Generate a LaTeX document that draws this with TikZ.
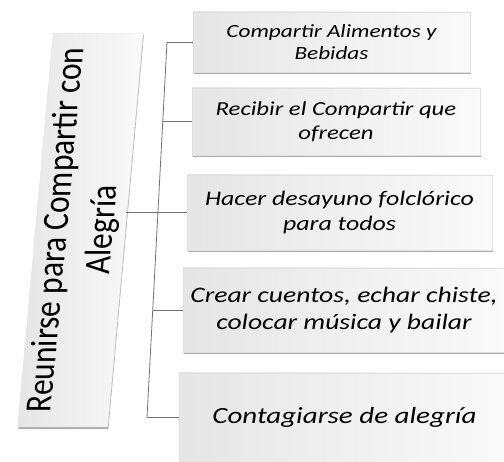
\documentclass[tikz,border=0pt]{standalone}
\usepackage{fontspec}
\setmainfont{Carlito}
\newfontfamily\boxfont[FakeStretch=1.25]{Carlito}
\newfontfamily\rootfont[FakeStretch=0.85]{Carlito}
\usetikzlibrary{shadows}

\begin{document}
\begin{tikzpicture}[x=1pt,y=-1pt,
  item/.style={draw=black!12,left color=black!10,right color=black!2,
    drop shadow={shadow xshift=0.6pt,shadow yshift=-2.2pt,fill=black!45,opacity=.7},
    align=center,inner sep=2pt},
  branch/.style={draw=black!55,line width=0.8pt}]
\clip (0,0) rectangle (504,462);

\begin{scope}[shift={(80.5,230)},xslant=0.09]
\node[item,rotate=90,transform shape,minimum width=394pt,minimum height=90pt,
  font=\rootfont\fontsize{37}{46}\selectfont] (root) at (0,0) {Reunirse para Compartir con\\Alegría};
\end{scope}

\node[item,minimum width=277pt,minimum height=60pt,font=\boxfont\itshape\fontsize{18.6}{22}\selectfont]
  (b1) at (331.5,42) {Compartir Alimentos y\\Bebidas};
\node[item,minimum width=288pt,minimum height=67pt,font=\boxfont\itshape\fontsize{19.8}{24}\selectfont]
  (b2) at (336,121.5) {Recibir el Compartir que\\ofrecen};
\node[item,minimum width=305pt,minimum height=75pt,font=\boxfont\itshape\fontsize{20.7}{25}\selectfont]
  (b3) at (339.5,212.5) {Hacer desayuno folclórico\\para todos};
\node[item,minimum width=322pt,minimum height=84pt,font=\boxfont\itshape\fontsize{22.1}{27}\selectfont]
  (b4) at (344,310) {Crear cuentos, echar chiste,\\colocar música y bailar};
\node[item,minimum width=331pt,minimum height=89pt,font=\boxfont\itshape\fontsize{23.2}{28}\selectfont]
  (b5) at (344.5,417.5) {Contagiarse de alegría};

\coordinate (j1) at (167,42);
\coordinate (j2) at (162.7,121.5);
\coordinate (j4) at (152.7,310);
\coordinate (j5) at (147,417.5);

\draw[branch] (j1) -- (j5);
\draw[branch] (j1) -- (b1.west);
\draw[branch] (j2) -- (b2.west);
\draw[branch] (root.south |- b3.west) -- (b3.west);
\draw[branch] (j4) -- (b4.west);
\draw[branch] (j5) -- (b5.west);
\end{tikzpicture}
\end{document}
